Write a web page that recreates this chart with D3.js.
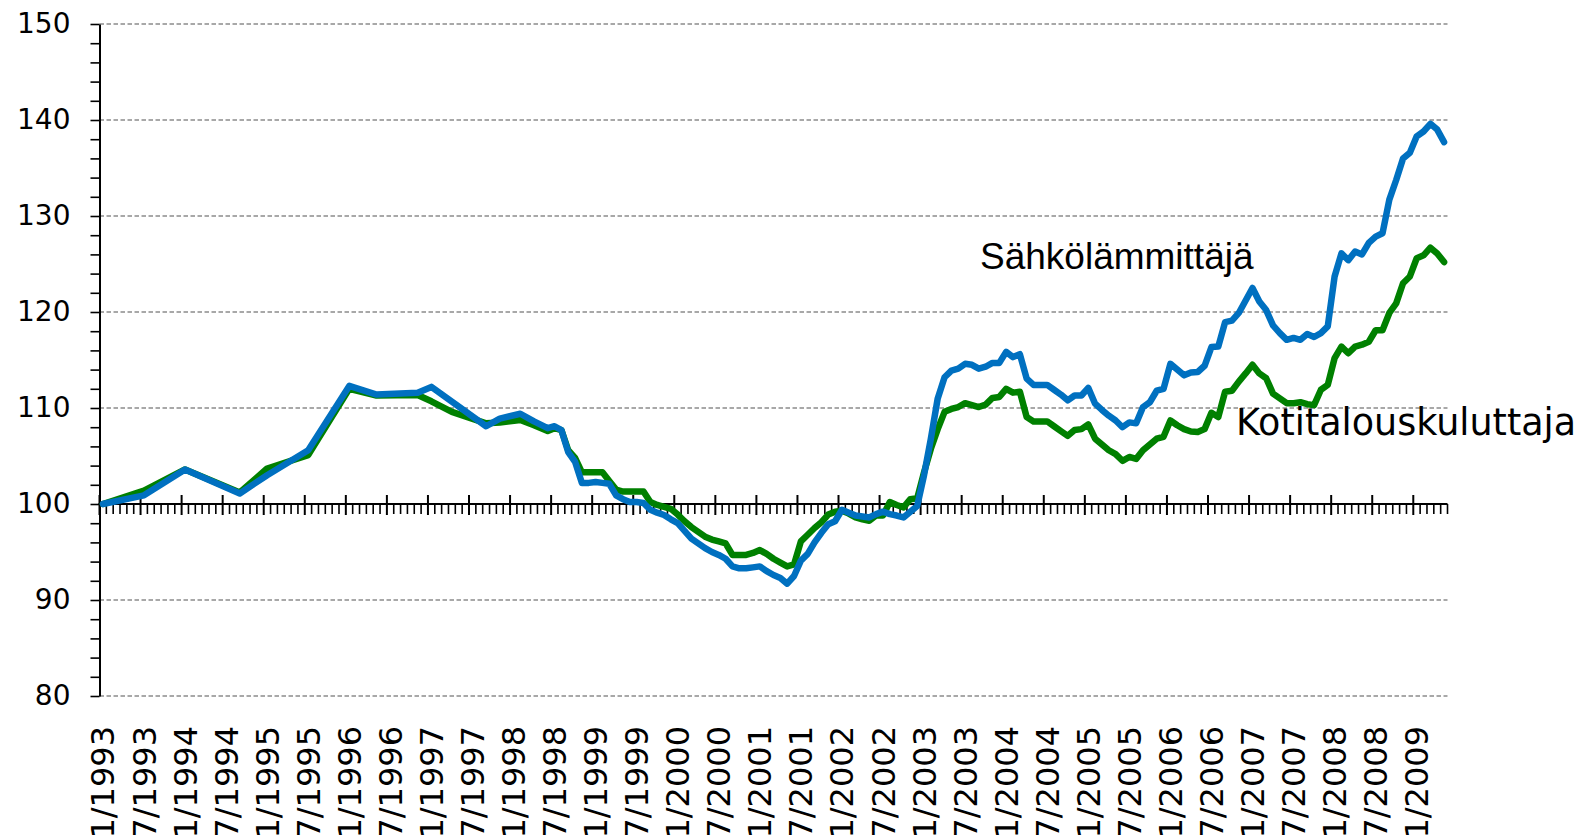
<!DOCTYPE html>
<html>
<head>
<meta charset="utf-8">
<script src="https://cdn.jsdelivr.net/npm/d3@7"></script>
<style>
body { margin: 0; background: #fff; }
</style>
</head>
<body>
<svg width="1585" height="835"></svg>
<script>
var width = 1585;
var height = 835;

var monthCount = 197; // 1/1993 .. 5/2009

var tickLabels = ["1/1993", "7/1993", "1/1994", "7/1994", "1/1995", "7/1995", "1/1996", "7/1996",
	"1/1997", "7/1997", "1/1998", "7/1998", "1/1999", "7/1999", "1/2000", "7/2000", "1/2001",
	"7/2001", "1/2002", "7/2002", "1/2003", "7/2003", "1/2004", "7/2004", "1/2005", "7/2005",
	"1/2006", "7/2006", "1/2007", "7/2007", "1/2008", "7/2008", "1/2009"];

var yTicks = [80, 90, 100, 110, 120, 130, 140, 150];

// one value per month, null = no observation (line is drawn straight across)
var sahkolammittaja = [
	100.0, null, null, null, null, null, 100.9, null, null, null, null, null,
	103.6, null, null, null, null, null, null, null, 101.1, null, null, null,
	103.0, null, null, null, null, null, 105.6, null, null, null, null, null,
	112.3, null, null, null, 111.4, null, null, null, null, null, 111.6, null,
	112.2, null, null, null, null, null, null, null, 108.1, null, 108.9, null,
	null, 109.4, null, 108.6, null, 107.9, 108.1, 107.7, 105.4, 104.4, 102.2, 102.2,
	102.3, 102.2, 102.1, 100.9, 100.5, 100.2, 100.2, 100.1, 99.4, 99.1, 98.85, 98.4,
	98.0, 97.2, 96.4, 95.9, 95.4, 95.0, 94.7, 94.3, 93.5, 93.3, 93.3, 93.4,
	93.5, 93.0, 92.6, 92.3, 91.7, 92.5, 94.1, 94.8, 96.0, 97.0, 97.9, 98.2,
	99.4, 99.1, 98.8, 98.7, 98.6, 98.95, 99.2, 98.95, 98.8, 98.6, 99.2, 99.8,
	103.0, 106.8, 111.0, 113.2, 113.9, 114.1, 114.6, 114.5, 114.1, 114.3, 114.7, 114.7,
	115.85, 115.3, 115.6, 113.05, 112.4, 112.4, 112.4, 111.9, 111.4, 110.8, 111.3, 111.3,
	112.1, 110.45, 109.8, 109.2, 108.7, 108.0, 108.5, 108.4, 110.1, 110.6, 111.8, 112.0,
	114.6, 114.0, 113.4, 113.7, 113.75, 114.4, 116.35, 116.4, 118.95, 119.1, 119.9, 121.2,
	122.5, 121.1, 120.2, 118.6, 117.8, 117.1, 117.3, 117.1, 117.7, 117.4, 117.8, 118.5,
	123.7, 126.1, 125.4, 126.3, 126.0, 127.2, 127.85, 128.2, 131.7, 133.75, 136.0, 136.6,
	138.3, 138.8, 139.6, 139.0, 137.7
];

var kotitalouskuluttaja = [
	100.0, null, null, null, null, null, 101.4, null, null, null, null, null,
	103.6, null, null, null, null, null, null, null, 101.2, null, null, null,
	103.7, null, null, null, null, null, 105.1, null, null, null, null, null,
	112.0, null, null, null, 111.3, null, null, null, null, null, 111.35, null,
	110.7, null, null, 109.6, null, null, null, null, 108.4, null, 108.5, null,
	null, 108.75, null, 108.2, null, 107.6, 107.9, 107.7, 105.6, 104.8, 103.3, 103.3,
	103.3, 103.3, 102.4, 101.5, 101.3, 101.3, 101.3, 101.3, 100.2, 99.9, 99.7, 99.5,
	98.9, 98.2, 97.6, 97.1, 96.6, 96.3, 96.1, 95.9, 94.7, 94.7, 94.7, 94.9,
	95.2, 94.8, 94.3, 93.9, 93.5, 93.7, 96.1, 96.8, 97.5, 98.1, 98.9, 99.2,
	99.3, 99.0, 98.6, 98.4, 98.25, 98.8, 98.8, 100.2, 99.9, 99.65, 100.5, 100.6,
	103.3, 105.75, 107.8, 109.6, 109.9, 110.1, 110.5, 110.3, 110.1, 110.35, 111.05, 111.15,
	112.0, 111.6, 111.7, 109.05, 108.6, 108.6, 108.6, 108.1, 107.6, 107.1, 107.7, 107.8,
	108.3, 106.8, 106.2, 105.6, 105.2, 104.5, 104.9, 104.7, 105.6, 106.2, 106.8, 107.0,
	108.7, 108.2, 107.8, 107.55, 107.5, 107.8, 109.5, 109.05, 111.7, 111.8, 112.75, 113.6,
	114.5, 113.6, 113.1, 111.5, 111.0, 110.5, 110.5, 110.6, 110.4, 110.3, 111.9, 112.4,
	115.2, 116.4, 115.7, 116.4, 116.6, 116.9, 118.1, 118.1, 119.9, 120.9, 123.0, 123.7,
	125.6, 125.9, 126.7, 126.1, 125.2
];

var plotLeft = 99.5, plotRight = 1447.5, plotTop = 24, plotBottom = 696;

var canvas = d3.select("svg");

var x = d3.scaleBand()
	.domain(d3.range(monthCount))
	.range([plotLeft, plotRight])
	.paddingInner(0)
	.paddingOuter(0);

// month boundaries, for the tick marks
var xb = d3.scaleLinear().domain([0, monthCount]).range([plotLeft, plotRight]);

var y = d3.scaleLinear().domain([80, 150]).range([plotBottom, plotTop]);

var setPointX = function(d) {
	return x(d.i) + x.bandwidth() / 2;
}

// grid
canvas.append("g")
	.selectAll("line")
	.data(yTicks.filter(function(d) { return d != 100; }))
	.enter()
	.append("line")
	.attr("x1", plotLeft)
	.attr("x2", plotRight)
	.attr("y1", function(d) { return y(d); })
	.attr("y2", function(d) { return y(d); })
	.style("stroke", "#8c8c8c")
	.style("stroke-width", 1.4)
	.style("stroke-dasharray", "4.5,2.5");

// y axis
var yAxis = canvas.append("g")
	.attr("transform", "translate(" + plotLeft + ",0)")
	.call(d3.axisLeft(y)
		.tickValues(d3.range(80, 151, 2))
		.tickSize(9)
		.tickSizeOuter(0)
		.tickPadding(20)
		.tickFormat(function(d) { return d % 10 == 0 ? d : ""; }));

yAxis.select(".domain").attr("stroke", "#000").attr("stroke-width", 2);
yAxis.selectAll(".tick line").attr("stroke", "#000").attr("stroke-width", 1.6);
yAxis.selectAll(".tick text")
	.attr("fill", "#000")
	.style("font-family", "'DejaVu Sans', Verdana, sans-serif")
	.style("font-size", "28px");

// x axis at 100
var xAxis = canvas.append("g").attr("transform", "translate(0," + y(100) + ")");

xAxis.append("line")
	.attr("x1", plotLeft - 1)
	.attr("x2", plotRight)
	.attr("y1", 0)
	.attr("y2", 0)
	.style("stroke", "#000")
	.style("stroke-width", 2);

xAxis.selectAll(".minor")
	.data(d3.range(monthCount + 1))
	.enter()
	.append("line")
	.attr("class", "minor")
	.attr("x1", function(d) { return xb(d); })
	.attr("x2", function(d) { return xb(d); })
	.attr("y1", function(d) { return d % 6 == 0 ? -9 : 0; })
	.attr("y2", function(d) { return d % 6 == 0 ? 11 : 10; })
	.style("stroke", "#000")
	.style("stroke-width", function(d) { return d % 6 == 0 ? 2 : 1.6; });

canvas.append("g")
	.selectAll("text")
	.data(tickLabels)
	.enter()
	.append("text")
	.attr("transform", function(d, i) {
		return "translate(" + (x(i * 6) + x.bandwidth() / 2) + ",726) rotate(-90)";
	})
	.attr("text-anchor", "end")
	.attr("dy", "0.36em")
	.style("font-family", "'DejaVu Sans', Verdana, sans-serif")
	.style("font-size", "32px")
	.style("fill", "#000")
	.text(function(d) { return d; });

// series
var toPoints = function(values) {
	return values
		.map(function(v, i) { return {i: i, v: v}; })
		.filter(function(d) { return d.v != null; });
}

var line = d3.line()
	.x(setPointX)
	.y(function(d) { return y(d.v); });

canvas.append("path")
	.datum(toPoints(kotitalouskuluttaja))
	.attr("d", line)
	.style("fill", "none")
	.style("stroke", "#008000")
	.style("stroke-width", 6.5)
	.style("stroke-linejoin", "round")
	.style("stroke-linecap", "round");

canvas.append("path")
	.datum(toPoints(sahkolammittaja))
	.attr("d", line)
	.style("fill", "none")
	.style("stroke", "#0070c0")
	.style("stroke-width", 6.5)
	.style("stroke-linejoin", "round")
	.style("stroke-linecap", "round");

// series names
canvas.append("text")
	.attr("x", 980)
	.attr("y", 269)
	.style("font-family", "'Liberation Sans', Arial, sans-serif")
	.style("font-size", "37px")
	.style("fill", "#000")
	.text("Sähkölämmittäjä");

canvas.append("text")
	.attr("x", 1236)
	.attr("y", 435)
	.style("font-family", "'DejaVu Sans', Verdana, sans-serif")
	.style("font-size", "36.5px")
	.style("fill", "#000")
	.text("Kotitalouskuluttaja");
</script>
</body>
</html>
